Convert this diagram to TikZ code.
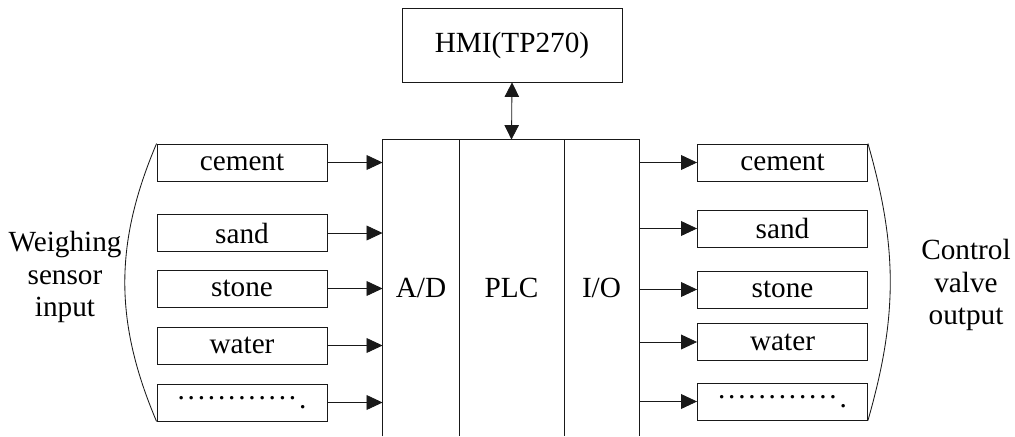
\documentclass[tikz,border=0pt]{standalone}
\usepackage{fontspec}
\setmainfont{Liberation Serif}
\usetikzlibrary{arrows.meta,calc}
\definecolor{LineClr}{rgb}{0.1,0.1,0.1}
\newcommand{\dotrow}{\foreach \k in {1,...,12}{\raisebox{0.3em}{.}\kern2pt}.}

\begin{document}
\begin{tikzpicture}[x=0.025cm,y=-0.025cm,
  font=\fontsize{20.8}{23}\selectfont,
  line width=0.6pt,
  box/.style={draw=LineClr,minimum width=4.25cm,minimum height=0.925cm,inner sep=0pt},
  col/.style={minimum height=7.4cm,inner sep=0pt},
  sig/.style={draw=LineClr,-{Triangle[length=0.4cm,width=0.37cm]}},
  lbl/.style={align=center,inner sep=0pt}]
\useasboundingbox (0,0) rectangle (1015,436);

% HMI on top
\node[box,minimum width=5.5cm,minimum height=1.85cm] (hmi) at (512,45) {HMI(TP270)};

% PLC columns
\node[col,minimum width=1.9cm] (ad) at (421,288) {A/D};
\node[col,minimum width=2.625cm] (plc) at (511.5,288) {PLC};
\node[col,minimum width=1.875cm] (io) at (601.5,288) {I/O};
\draw[LineClr] (ad.south west) -- (ad.north west) -- (io.north east) -- (io.south east);
\draw[LineClr] (ad.north east) -- (ad.south east);
\draw[LineClr] (plc.north east) -- (plc.south east);

\draw[LineClr,{Triangle[length=0.36cm,width=0.36cm]}-{Triangle[length=0.36cm,width=0.36cm]}] (hmi.south) -- (plc.north);

% inputs
\node[box] (inCement) at (242,162.5) {cement};
\node[box] (inSand) at (242,233) {sand};
\node[box] (inStone) at (242,288.5) {stone};
\node[box] (inWater) at (242,345.5) {water};
\node[box] (inDots) at (242,402.5) {\dotrow};

\draw[sig] (inCement) -- (inCement -| ad.west);
\draw[sig] (inSand) -- (inSand -| ad.west);
\draw[sig] (inStone) -- (inStone -| ad.west);
\draw[sig] (inWater) -- (inWater -| ad.west);
\draw[sig] (inDots) -- (inDots -| ad.west);

\draw[LineClr] (inCement.north west) to[bend right=23] (inDots.south west);
\node[lbl] (inLabel) at (65,277) {Weighing\\sensor\\input};

% outputs
\node[box] (outCement) at (782.5,162.5) {cement};
\node[box] (outSand) at (782.5,228.5) {sand};
\node[box] (outStone) at (782.5,289.5) {stone};
\node[box] (outWater) at (782.5,342) {water};
\node[box] (outDots) at (782.5,401.5) {\dotrow};

\draw[sig] (outCement -| io.east) -- (outCement);
\draw[sig] (outSand -| io.east) -- (outSand);
\draw[sig] (outStone -| io.east) -- (outStone);
\draw[sig] (outWater -| io.east) -- (outWater);
\draw[sig] (outDots -| io.east) -- (outDots);

\draw[LineClr] (outCement.north east) to[bend left=16] (outDots.south east);
\node[lbl] (outLabel) at (966,285) {Control\\valve\\output};

\end{tikzpicture}
\end{document}
